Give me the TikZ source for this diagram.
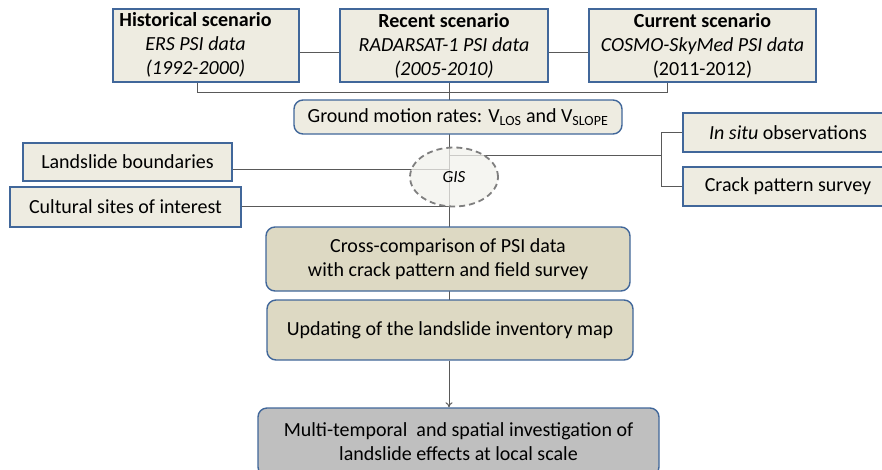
\documentclass[tikz,border=0pt]{standalone}
\usepackage{fontspec}
\setmainfont{Carlito}
\usetikzlibrary{arrows.meta,shapes.geometric}
\definecolor{boxfill}{HTML}{EEECE1}
\definecolor{boxline}{HTML}{41679A}
\definecolor{tanfill}{HTML}{DDD9C3}
\definecolor{grayfill}{HTML}{BFBFBF}
\definecolor{conn}{HTML}{595959}
\definecolor{gisline}{HTML}{7F7F7F}
\definecolor{gisfill}{HTML}{F2F1EC}
\tikzset{
  sqbox/.style={draw=boxline, line width=1.4pt, fill=boxfill, align=center, inner sep=0pt, font=\fontsize{20}{24}\selectfont},
  rdbox/.style={sqbox, rounded corners=9pt},
  conline/.style={draw=conn, line width=1pt},
}
\begin{document}
\begin{tikzpicture}[x=1pt,y=-1pt]
\useasboundingbox (0,0) rectangle (882,469);
% nodes
\node[sqbox, minimum width=186pt, minimum height=73pt] (hist) at (206,45.5) {\begin{tabular}{@{}c@{}}\textbf{Historical scenario}\\\textit{ERS PSI data}\\\textit{(1992-2000)}\end{tabular}\kern21pt};
\node[sqbox, minimum width=208pt, minimum height=73pt] (rec) at (444,45.5) {\textbf{Recent scenario}\\\textit{RADARSAT-1 PSI data}\\\textit{(2005-2010)}};
\node[sqbox, minimum width=227pt, minimum height=73pt] (cur) at (702.5,45.5) {\textbf{Current scenario}\\\textit{COSMO-SkyMed PSI data}\\(2011-2012)};
\node[sqbox, minimum width=209pt, minimum height=38pt] (lb) at (127.5,162) {Landslide boundaries};
\node[sqbox, minimum width=231pt, minimum height=40pt] (cs) at (125.5,207) {Cultural sites of interest};
\node[sqbox, minimum width=210pt, minimum height=39pt] (ins) at (788,132.5) {\textit{In situ} observations};
\node[sqbox, minimum width=210pt, minimum height=39pt] (crack) at (788,186.5) {Crack pattern survey};
% named coordinates
\coordinate (mid) at (449,0);
\coordinate (busy) at (0,92);
\coordinate (topy) at (0,52);
\coordinate (hb) at (197,0);
\coordinate (cb) at (667,0);
\coordinate (ry) at (0,155);
\coordinate (rx) at (661,0);
% connectors (drawn under middle column)
\draw[conline] (hist.east |- topy) -- (rec.west |- topy);
\draw[conline] (rec.east |- topy) -- (cur.west |- topy);
\draw[conline] (hist.south -| hb) -- (hb |- busy) -- (cb |- busy) -- (cur.south -| cb);
\draw[conline] (rec.south -| mid) -- (mid |- 0,300);
\draw[conline] (lb.east |- 0,169) -- (mid |- 0,169);
\draw[conline] (cs.east |- 0,206) -- (mid |- 0,206);
\draw[conline] (mid |- ry) -- (rx |- ry);
\draw[conline] (rx |- ins.west) -- (rx |- crack.west);
\draw[conline] (rx |- ins.west) -- (ins.west);
\draw[conline] (rx |- crack.west) -- (crack.west);
% middle column
\node[rdbox, minimum width=328pt, minimum height=34pt] (gm) at (458,117) {Ground motion rates: V\textsubscript{LOS} and V\textsubscript{SLOPE}};
\node[draw=gisline, dashed, dash pattern=on 6pt off 4pt, line width=1.8pt, fill=gisfill, fill opacity=0.75, text opacity=1, ellipse, minimum width=88pt, minimum height=59pt, inner sep=0pt, font=\fontsize{17}{20}\selectfont\itshape] (gis) at (454,177) {GIS};
\node[rdbox, fill=tanfill, minimum width=364pt, minimum height=64pt] (cross) at (448,259) {Cross-comparison of PSI data\\with crack pattern and field survey};
\node[rdbox, fill=tanfill, minimum width=366pt, minimum height=60pt] (upd) at (450,330) {Updating of the landslide inventory map};
\node[rdbox, fill=grayfill, minimum width=401pt, minimum height=68pt] (fin) at (458.5,442) {Multi-temporal\ \ and spatial investigation of\\landslide effects at local scale};
\draw[conline, -{To[length=5pt,width=7pt]}] (upd.south -| mid) -- (fin.north -| mid);
\end{tikzpicture}
\end{document}
